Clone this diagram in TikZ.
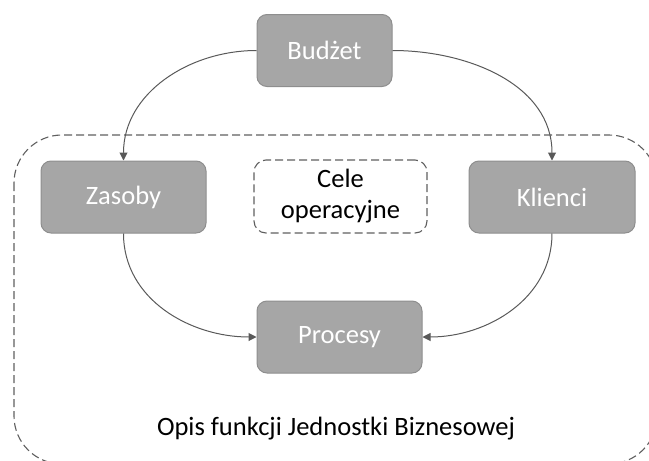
\documentclass[tikz,border=0pt]{standalone}
\usepackage{fontspec}
\setmainfont{Carlito}
\usetikzlibrary{arrows.meta}
\definecolor{boxfill}{HTML}{A6A6A6}
\definecolor{boxline}{HTML}{8E8E8E}
\definecolor{arrowc}{HTML}{595959}
\definecolor{dashc}{HTML}{5F5F5F}
\begin{document}
\begin{tikzpicture}[x=1pt,y=-1pt,
  graybox/.style={draw=boxline, line width=1pt, fill=boxfill, rounded corners=10pt,
    minimum height=72pt, text=white, font=\fontsize{26.5}{32}\selectfont, inner sep=0pt},
  dashbox/.style={draw=dashc, line width=1.1pt, dash pattern=on 8pt off 4pt, rounded corners=12pt,
    minimum height=73pt, minimum width=173pt, align=center, font=\fontsize{26.5}{31}\selectfont, inner sep=0pt},
  conn/.style={draw=arrowc, line width=1pt, -{Triangle[length=8pt,width=8pt]}}]
\useasboundingbox (0,0) rectangle (649,461);
\begin{scope}
\clip (0,0) rectangle (649,461);
\draw[draw=dashc, line width=1.1pt, dash pattern=on 8pt off 4pt, rounded corners=48pt]
  (14,135) rectangle (657,464);
\end{scope}
\node[graybox, minimum width=135pt] (bud) at (324.5,50.5) {Budżet};
\node[graybox, minimum width=165pt] (zas) at (123.5,197) {Zasoby};
\node[graybox, minimum width=166pt] (kli) at (552,197) {Klienci};
\node[graybox, minimum width=165pt] (pro) at (339.5,337) {Procesy};
\node[dashbox] (cel) at (340.5,196.5) {Cele\\operacyjne};
\node[font=\fontsize{26.5}{32}\selectfont, inner sep=0pt] (opis) at (336,429) {Opis funkcji Jednostki Biznesowej};
\draw[conn] (bud.west) to[out=180,in=90] (zas.north);
\draw[conn] (bud.east) to[out=0,in=90] (kli.north);
\draw[conn] (zas.south) to[out=-90,in=180] (pro.west);
\draw[conn] (kli.south) to[out=-90,in=0] (pro.east);
\end{tikzpicture}
\end{document}
